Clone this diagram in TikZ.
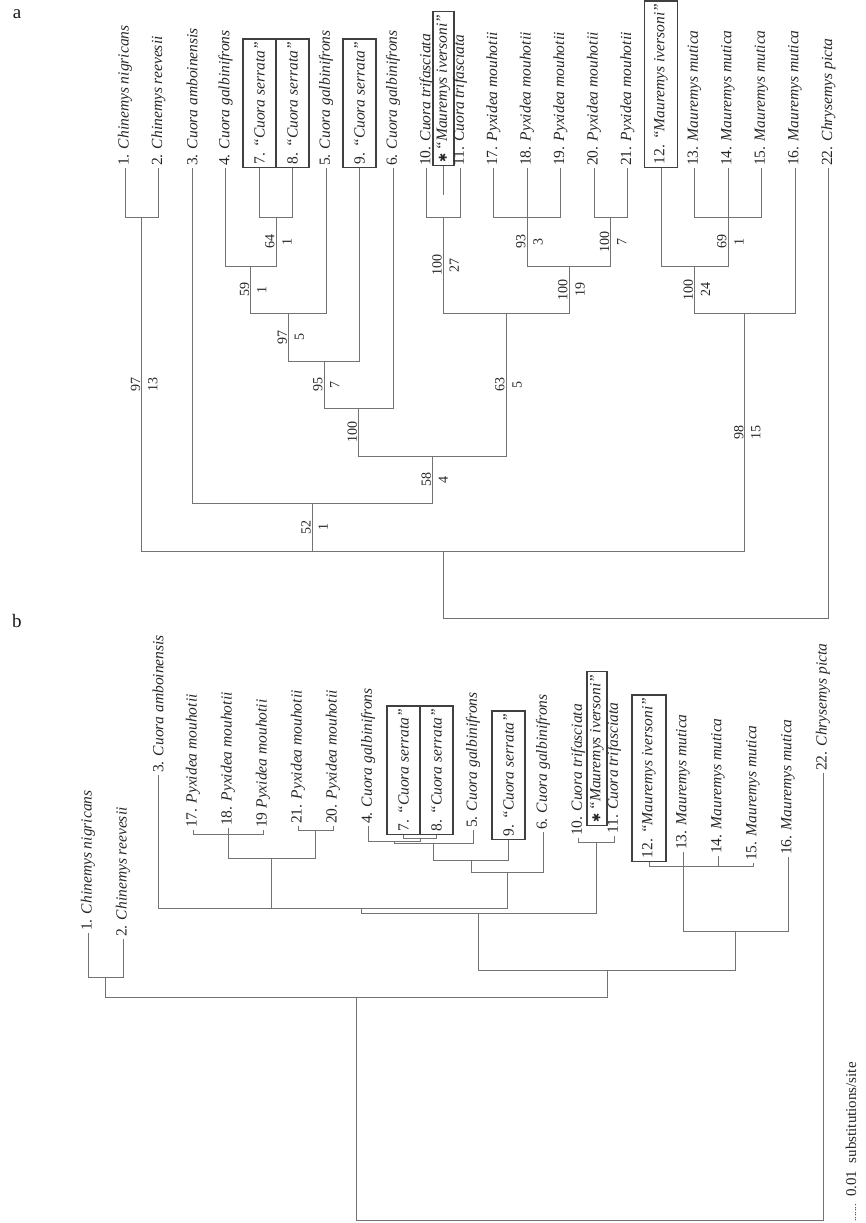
\documentclass[tikz,border=0pt]{standalone}
\usepackage{fontspec}
\setmainfont{Liberation Serif}
\newfontfamily\symfont{DejaVu Sans}
\newcommand{\ivstar}{{\symfont\fontsize{11}{12}\selectfont ✱}}

\begin{document}
\begin{tikzpicture}[x=1pt, y=-1pt]
% STYLES
\tikzset{
    branch/.style={draw=black!55, line width=0.8pt},
    leaf/.style={rotate=90, anchor=west, inner sep=2pt,
    font=\fontsize{15.5}{18}\selectfont, text=black!85},
    boxleaf/.style={leaf, draw=black!75, line width=1.4pt, inner xsep=3pt, minimum height=33pt},
    suppl/.style={rotate=90, anchor=south, inner sep=1pt,
    font=\fontsize{14}{16}\selectfont, text=black!85},
    suppr/.style={suppl, anchor=north, inner ysep=6pt},
    panel/.style={font=\fontsize{19}{22}\selectfont, text=black!90}
}
\useasboundingbox (0,0) rectangle (866,1223);

% PANEL a
\node[panel] (pa) at (17,14) {a};
\node[leaf] (a1) at (125,168) {1. \textit{Chinemys nigricans}};
\node[leaf] (a2) at (158.5,168) {2. \textit{Chinemys reevesii}};
\node[leaf] (a3) at (192,168) {3. \textit{Cuora amboinensis}};
\node[leaf] (a4) at (225.5,168) {4. \textit{Cuora galbinifrons}};
\node[boxleaf] (a7) at (259.5,168) {7. \textit{``Cuora serrata''}};
\node[boxleaf] (a8) at (292.5,168) {8. \textit{``Cuora serrata''}};
\node[leaf] (a5) at (326,168) {5. \textit{Cuora galbinifrons}};
\node[boxleaf] (a9) at (359.5,168) {9. \textit{``Cuora serrata''}};
\node[leaf] (a6) at (393,168) {6. \textit{Cuora galbinifrons}};
\node[leaf] (a10) at (426.5,168) {10. \textit{Cuora trifasciata}};
\node[boxleaf, minimum height=21pt] (astar) at (443.5,166) {\ivstar\,\textit{``Mauremys iversoni''}};
\node[leaf] (a11) at (460,168) {11. \textit{Cuora trifasciata}};
\node[leaf] (a17) at (493.5,168) {17. \textit{Pyxidea mouhotii}};
\node[leaf] (a18) at (527,168) {18. \textit{Pyxidea mouhotii}};
\node[leaf] (a19) at (560.5,168) {19. \textit{Pyxidea mouhotii}};
\node[leaf] (a20) at (594,168) {20. \textit{Pyxidea mouhotii}};
\node[leaf] (a21) at (627.5,168) {21. \textit{Pyxidea mouhotii}};
\node[boxleaf] (a12) at (661,168) {12. \textit{``Mauremys iversoni''}};
\node[leaf] (a13) at (694.5,168) {13. \textit{Mauremys mutica}};
\node[leaf] (a14) at (728,168) {14. \textit{Mauremys mutica}};
\node[leaf] (a15) at (761.5,168) {15. \textit{Mauremys mutica}};
\node[leaf] (a16) at (795,168) {16. \textit{Mauremys mutica}};
\node[leaf] (a22) at (828.5,168) {22. \textit{Chrysemys picta}};

\coordinate (astarend) at (443.5,195);
\coordinate (n12) at (141.75,217);
\coordinate (n78) at (276,217);
\coordinate (n478) at (250.75,266);
\coordinate (n5) at (288.4,313);
\coordinate (n9) at (323.9,361);
\coordinate (n6) at (358.5,408);
\coordinate (n1011) at (443.25,217);
\coordinate (n1719) at (527,217);
\coordinate (n2021) at (610.75,217);
\coordinate (npyx) at (568.9,266);
\coordinate (ntp) at (506,313);
\coordinate (ncu) at (432.3,456);
\coordinate (n3) at (312.2,503);
\coordinate (n1315) at (728,217);
\coordinate (nm12) at (694.5,266);
\coordinate (nmau) at (744.8,313);
\coordinate (nin) at (443.3,551);
\coordinate (root) at (636,618);

% branches of a
\draw[branch] (a1.west) |- (n12);
\draw[branch] (a2.west) |- (n12);
\draw[branch] (n12) |- node[suppl,pos=.25]{97} node[suppr,pos=.25]{13} (nin);
\draw[branch] (a7.west) |- (n78);
\draw[branch] (a8.west) |- (n78);
\draw[branch] (a4.west) |- (n478);
\draw[branch] (n78) |- node[suppl,pos=.25]{64} node[suppr,pos=.25]{1} (n478);
\draw[branch] (n478) |- node[suppl,pos=.25]{59} node[suppr,pos=.25]{1} (n5);
\draw[branch] (a5.west) |- (n5);
\draw[branch] (n5) |- node[suppl,pos=.25]{97} node[suppr,pos=.25]{5} (n9);
\draw[branch] (a9.west) |- (n9);
\draw[branch] (n9) |- node[suppl,pos=.25]{95} node[suppr,pos=.25]{7} (n6);
\draw[branch] (a6.west) |- (n6);
\draw[branch] (n6) |- node[suppl,pos=.25]{100} (ncu);
\draw[branch] (astar.west) -- (astarend);
\draw[branch] (a10.west) |- (n1011);
\draw[branch] (a11.west) |- (n1011);
\draw[branch] (a17.west) |- (n1719);
\draw[branch] (a18.west) -- (n1719);
\draw[branch] (a19.west) |- (n1719);
\draw[branch] (a20.west) |- (n2021);
\draw[branch] (a21.west) |- (n2021);
\draw[branch] (n1719) |- node[suppl,pos=.25]{93} node[suppr,pos=.25]{3} (npyx);
\draw[branch] (n2021) |- node[suppl,pos=.25]{100} node[suppr,pos=.25]{7} (npyx);
\draw[branch] (n1011) |- node[suppl,pos=.25]{100} node[suppr,pos=.25]{27} (ntp);
\draw[branch] (npyx) |- node[suppl,pos=.25]{100} node[suppr,pos=.25]{19} (ntp);
\draw[branch] (ntp) |- node[suppl,pos=.25]{63} node[suppr,pos=.25]{5} (ncu);
\draw[branch] (ncu) |- node[suppl,pos=.25]{58} node[suppr,pos=.25]{4} (n3);
\draw[branch] (a3.west) |- (n3);
\draw[branch] (n3) |- node[suppl,pos=.25]{52} node[suppr,pos=.25]{1} (nin);
\draw[branch] (a13.west) |- (n1315);
\draw[branch] (a14.west) -- (n1315);
\draw[branch] (a15.west) |- (n1315);
\draw[branch] (a12.west) |- (nm12);
\draw[branch] (n1315) |- node[suppl,pos=.25]{69} node[suppr,pos=.25]{1} (nm12);
\draw[branch] (nm12) |- node[suppl,pos=.25]{100} node[suppr,pos=.25]{24} (nmau);
\draw[branch] (a16.west) |- (nmau);
\draw[branch] (nmau) |- node[suppl,pos=.25]{98} node[suppr,pos=.25]{15} (nin);
\draw[branch] (nin) |- (root);
\draw[branch] (a22.west) |- (root);

% PANEL b
\node[panel] (pb) at (17,621) {b};
\node[leaf] (b1) at (88,933) {1. \textit{Chinemys nigricans}};
\node[leaf] (b2) at (123,939) {2. \textit{Chinemys reevesii}};
\node[leaf] (b3) at (158,775) {3. \textit{Cuora amboinensis}};
\node[leaf] (b17) at (193,830) {17. \textit{Pyxidea mouhotii}};
\node[leaf] (b18) at (228,828) {18. \textit{Pyxidea mouhotii}};
\node[leaf] (b19) at (263,830) {19 \textit{Pyxidea mouhotii}};
\node[leaf] (b21) at (298,826) {21. \textit{Pyxidea mouhotii}};
\node[leaf] (b20) at (333,826) {20. \textit{Pyxidea mouhotii}};
\node[leaf] (b4) at (368,826) {4. \textit{Cuora galbinifrons}};
\node[boxleaf] (b7) at (403.5,835) {7. \textit{``Cuora serrata''}};
\node[boxleaf] (b8) at (436.5,835) {8. \textit{``Cuora serrata''}};
\node[leaf] (b5) at (473,830) {5. \textit{Cuora galbinifrons}};
\node[boxleaf] (b9) at (508.5,840) {9. \textit{``Cuora serrata''}};
\node[leaf] (b6) at (543,832) {6. \textit{Cuora galbinifrons}};
\node[leaf] (b10) at (578,838) {10. \textit{Cuora trifasciata}};
\node[boxleaf, minimum height=20pt] (bstar) at (597,826) {\ivstar\,\textit{``Mauremys iversoni''}};
\node[leaf] (b11) at (614,836) {11. \textit{Cuora trifasciata}};
\node[boxleaf, minimum height=34pt] (b12) at (649,862) {12. \textit{``Mauremys iversoni''}};
\node[leaf] (b13) at (683,852) {13. \textit{Mauremys mutica}};
\node[leaf] (b14) at (718,856) {14. \textit{Mauremys mutica}};
\node[leaf] (b15) at (753,863) {15. \textit{Mauremys mutica}};
\node[leaf] (b16) at (788,857) {16. \textit{Mauremys mutica}};
\node[leaf] (b22) at (823,773) {22. \textit{Chrysemys picta}};

\coordinate (m12) at (105.5,977);
\coordinate (m1719) at (228,834);
\coordinate (m2021) at (315.5,830);
\coordinate (mpyx) at (271.75,858);
\coordinate (m78) at (420,838);
\coordinate (m478) at (394,841);
\coordinate (m5) at (433.5,843);
\coordinate (m9) at (471,860);
\coordinate (m6) at (507,872);
\coordinate (m3p) at (215,908);
\coordinate (mcu) at (361,908);
\coordinate (m1011) at (596,842);
\coordinate (mtri) at (478.5,913);
\coordinate (mm12) at (683,866);
\coordinate (mmau) at (735.5,931);
\coordinate (mF) at (607,970);
\coordinate (mG) at (356,997);
\coordinate (rootb) at (590,1220);

% branches of b
\draw[branch] (b1.west) |- (m12);
\draw[branch] (b2.west) |- (m12);
\draw[branch] (m12) |- (mG);
\draw[branch] (b17.west) |- (m1719);
\draw[branch] (b18.west) -- (m1719);
\draw[branch] (b19.west) |- (m1719);
\draw[branch] (b21.west) |- (m2021);
\draw[branch] (b20.west) |- (m2021);
\draw[branch] (m1719) |- (mpyx);
\draw[branch] (m2021) |- (mpyx);
\draw[branch] (b3.west) |- (m3p);
\draw[branch] (mpyx) |- (m3p);
\draw[branch] (b7.west) |- (m78);
\draw[branch] (b8.west) |- (m78);
\draw[branch] (b4.west) |- (m478);
\draw[branch] (m78) |- (m478);
\draw[branch] (m478) |- (m5);
\draw[branch] (b5.west) |- (m5);
\draw[branch] (m5) |- (m9);
\draw[branch] (b9.west) |- (m9);
\draw[branch] (m9) |- (m6);
\draw[branch] (b6.west) |- (m6);
\draw[branch] (m3p) |- (mcu);
\draw[branch] (m6) |- (mcu);
\draw[branch] (b10.west) |- (m1011);
\draw[branch] (b11.west) |- (m1011);
\draw[branch] (mcu) |- (mtri);
\draw[branch] (m1011) |- (mtri);
\draw[branch] (b12.west) |- (mm12);
\draw[branch] (b13.west) -- (mm12);
\draw[branch] (b14.west) |- (mm12);
\draw[branch] (b15.west) |- (mm12);
\draw[branch] (mm12) |- (mmau);
\draw[branch] (b16.west) |- (mmau);
\draw[branch] (mtri) |- (mF);
\draw[branch] (mmau) |- (mF);
\draw[branch] (mF) |- (mG);
\draw[branch] (mG) |- (rootb);
\draw[branch] (b22.west) |- (rootb);

% scale
\node[rotate=90, anchor=west, inner sep=0pt, font=\fontsize{15}{17}\selectfont, text=black!85]
  (scale) at (851,1222) {{\fontsize{10}{12}\selectfont.......}\, 0.01\enspace substitutions/site};
\end{tikzpicture}
\end{document}
